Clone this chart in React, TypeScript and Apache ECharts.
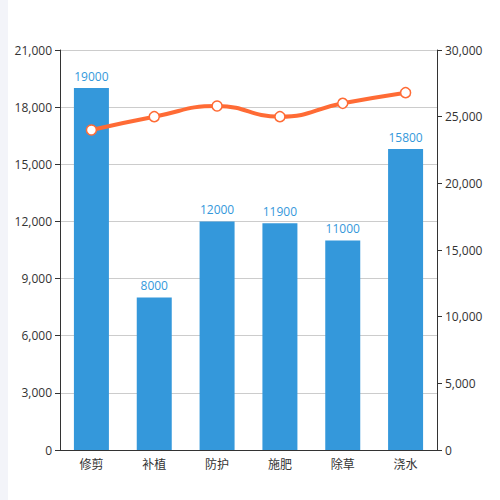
import { useEffect, useRef } from 'react';
import * as echarts from 'echarts';

const categories = ['修剪', '补植', '防护', '施肥', '除草', '浇水'];
const barValues = [19000, 8000, 12000, 11900, 11000, 15800];
const lineValues = [24000, 25000, 25800, 25000, 26000, 26800];

const font = '"Open Sans", "Noto Sans CJK SC", sans-serif';

export default function App() {
  const ref = useRef<HTMLDivElement | null>(null);

  useEffect(() => {
    if (!ref.current) {
      return;
    }
    const chart = echarts.init(ref.current, undefined, { renderer: 'svg' });
    chart.setOption({
      animation: false,
      textStyle: { fontFamily: font },
      grid: { left: 52, right: 63, top: 50, bottom: 50 },
      xAxis: {
        type: 'category',
        data: categories,
        axisLine: { lineStyle: { color: '#333' } },
        axisTick: { lineStyle: { color: '#333' } },
        axisLabel: { color: '#333', fontSize: 12, fontFamily: font }
      },
      yAxis: [
        {
          type: 'value',
          min: 0,
          max: 21000,
          interval: 3000,
          axisLine: { show: true, lineStyle: { color: '#333' } },
          axisTick: { show: true, lineStyle: { color: '#333' } },
          axisLabel: { color: '#333', fontSize: 12, fontFamily: font },
          splitLine: { lineStyle: { color: '#ccc' } }
        },
        {
          type: 'value',
          min: 0,
          max: 30000,
          interval: 5000,
          axisLine: { show: true, lineStyle: { color: '#333' } },
          axisTick: { show: true, lineStyle: { color: '#333' } },
          axisLabel: { color: '#333', fontSize: 12, fontFamily: font },
          splitLine: { show: false }
        }
      ],
      series: [
        {
          type: 'bar',
          data: barValues,
          barWidth: 35,
          itemStyle: { color: '#3498db' },
          label: {
            show: true,
            position: 'top',
            distance: 6,
            color: '#3498db',
            fontSize: 12,
            fontFamily: font
          }
        },
        {
          type: 'line',
          yAxisIndex: 1,
          data: lineValues,
          smooth: true,
          symbol: 'circle',
          symbolSize: 10,
          lineStyle: { color: '#ff6b35', width: 4 },
          itemStyle: { color: '#fff', borderColor: '#ff6b35', borderWidth: 1.5 }
        }
      ]
    });
    return () => {
      chart.dispose();
    };
  }, []);

  return (
    <div
      style={{
        position: 'fixed',
        left: 0,
        top: 0,
        width: 500,
        height: 500,
        background: '#fff',
        borderLeft: '8px solid #f3f4f9',
        boxSizing: 'border-box'
      }}
    >
      <div ref={ref} style={{ width: 492, height: 500 }} />
    </div>
  );
}
